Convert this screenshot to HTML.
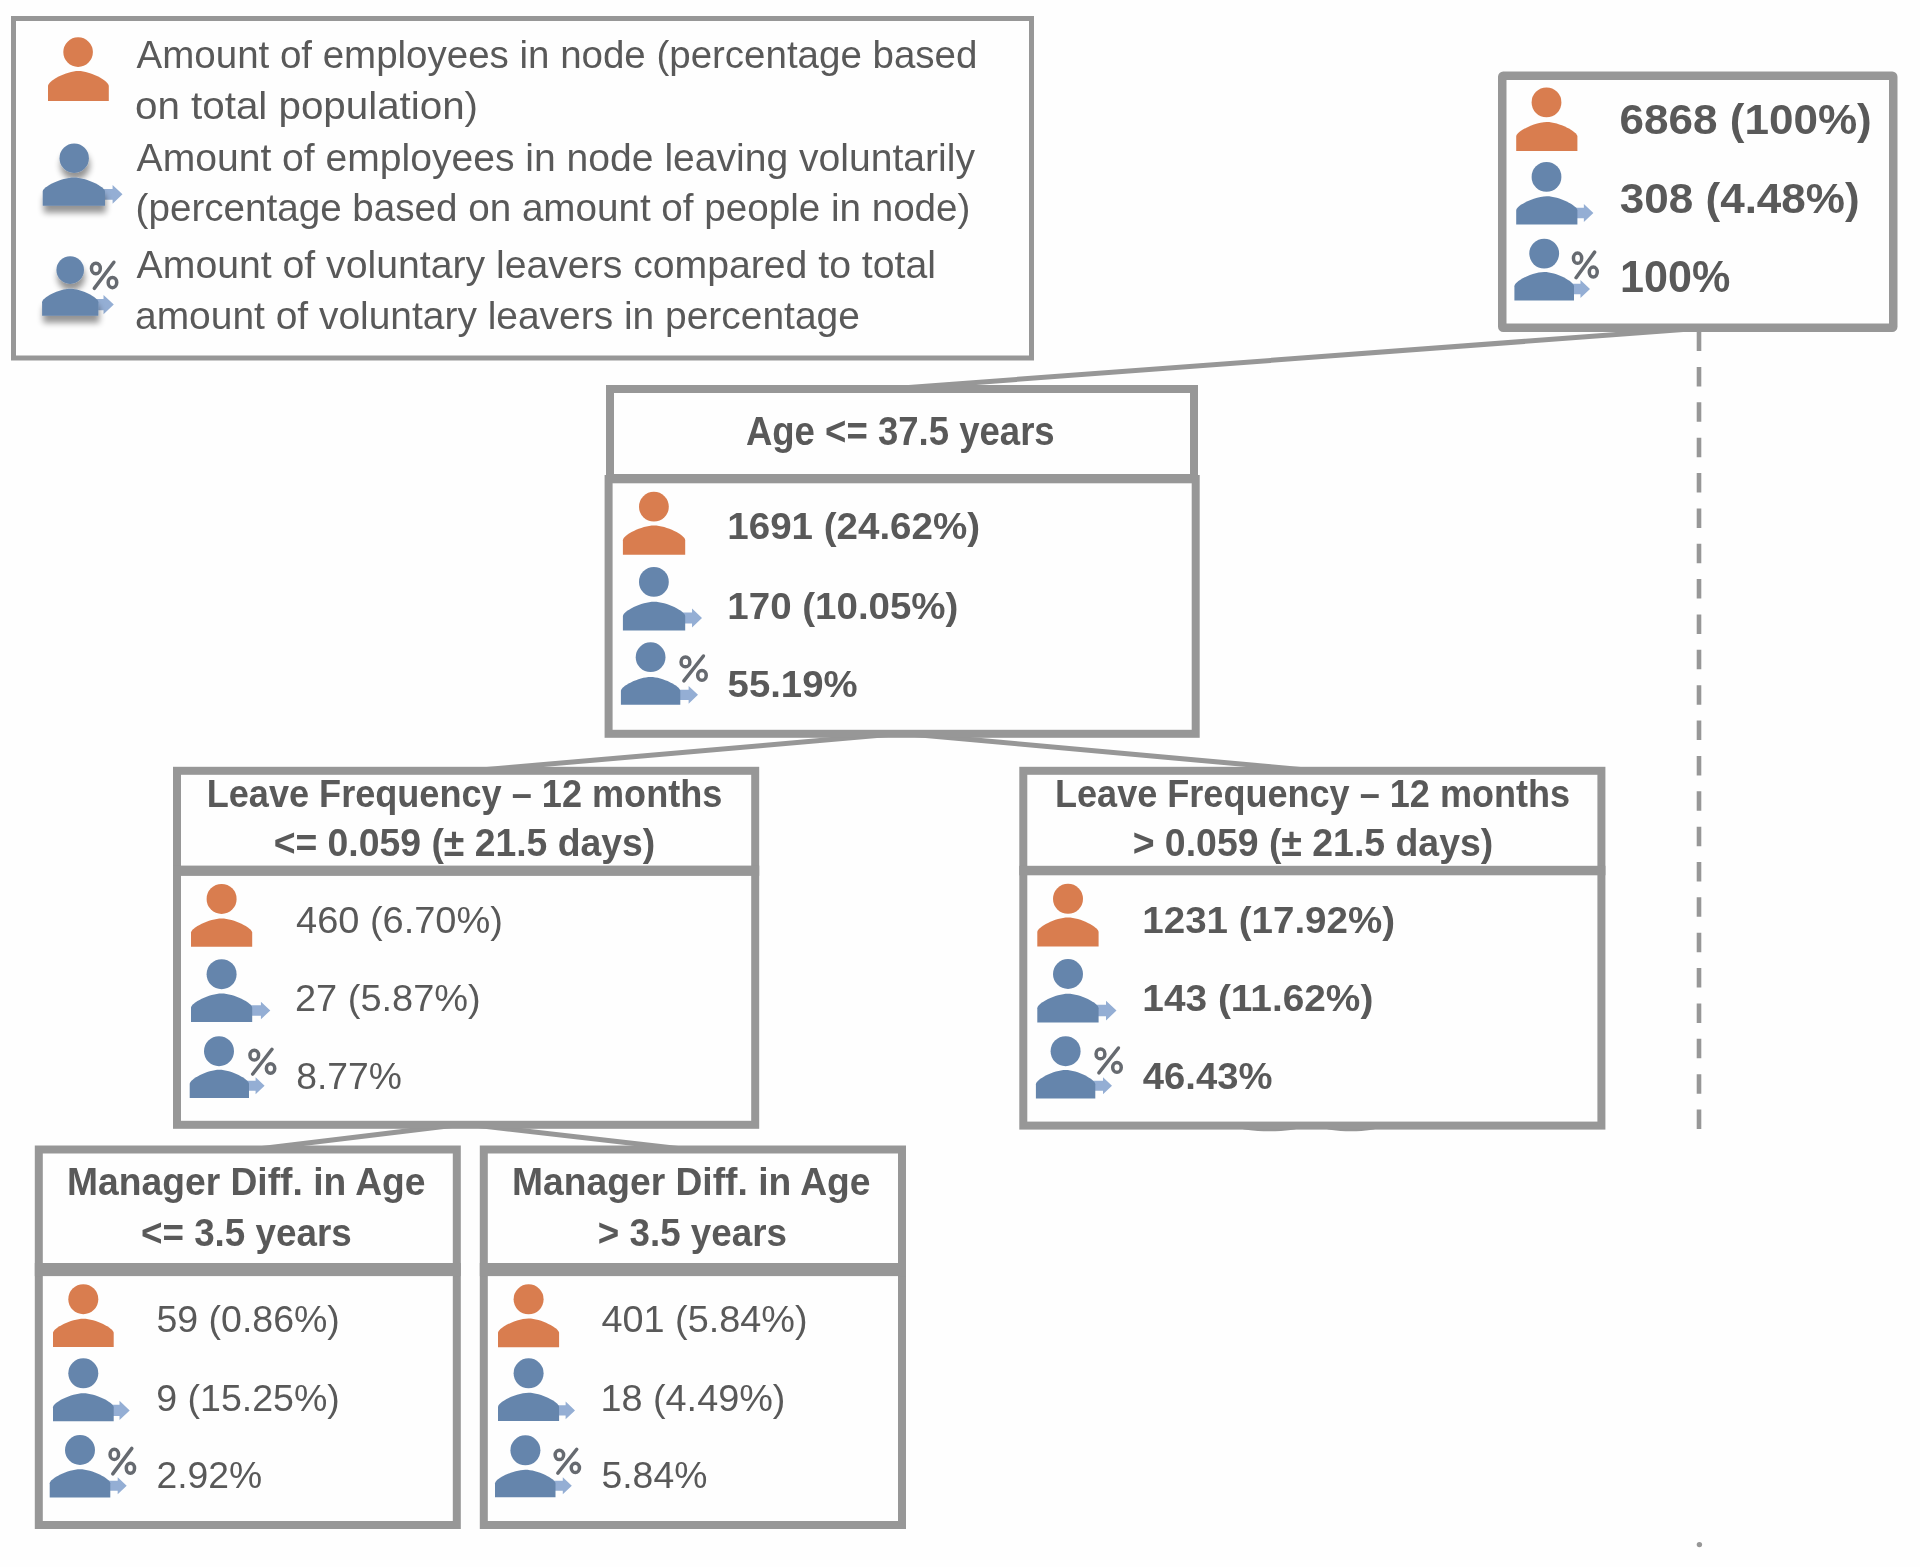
<!DOCTYPE html>
<html><head><meta charset="utf-8"><style>
html,body{margin:0;padding:0;background:#fff;width:1920px;height:1567px;overflow:hidden}
svg{display:block;filter:blur(0.6px)}
text{font-family:"Liberation Sans", sans-serif}
</style></head><body>
<svg width="1920" height="1567" viewBox="0 0 1920 1567">
<defs><filter id="ds" x="-30%" y="-30%" width="160%" height="180%"><feGaussianBlur in="SourceAlpha" stdDeviation="3.2"/><feOffset dx="1" dy="7"/><feComponentTransfer><feFuncA type="linear" slope="0.42"/></feComponentTransfer><feMerge><feMergeNode/><feMergeNode in="SourceGraphic"/></feMerge></filter></defs>
<rect width="1920" height="1567" fill="#fefefe"/>
<rect x="13.50" y="18.50" width="1018.00" height="339.50" fill="#fefefe" stroke="#979797" stroke-width="5" rx="0"/>
<text x="136.62" y="68.00" font-size="39.39" font-weight="normal" fill="#595959" textLength="840.76" lengthAdjust="spacingAndGlyphs">Amount of employees in node (percentage based</text>
<text x="135.01" y="118.50" font-size="39.39" font-weight="normal" fill="#595959" textLength="342.99" lengthAdjust="spacingAndGlyphs">on total population)</text>
<text x="136.62" y="170.50" font-size="39.39" font-weight="normal" fill="#595959" textLength="838.35" lengthAdjust="spacingAndGlyphs">Amount of employees in node leaving voluntarily</text>
<text x="135.61" y="221.00" font-size="39.39" font-weight="normal" fill="#595959" textLength="834.79" lengthAdjust="spacingAndGlyphs">(percentage based on amount of people in node)</text>
<text x="136.62" y="278.30" font-size="39.39" font-weight="normal" fill="#595959" textLength="799.30" lengthAdjust="spacingAndGlyphs">Amount of voluntary leavers compared to total</text>
<text x="135.05" y="329.00" font-size="39.39" font-weight="normal" fill="#595959" textLength="724.78" lengthAdjust="spacingAndGlyphs">amount of voluntary leavers in percentage</text>
<circle cx="78.10" cy="52.10" r="14.80" fill="#D97D4F"/>
<path d="M48.00,101.00 L48.00,86.00 C48.00,80.90 66.24,71.00 78.40,71.00 C90.56,71.00 108.80,80.90 108.80,86.00 L108.80,101.00 Z" fill="#D97D4F"/>
<path d="M101.00,188.88 L112.59,188.88 L112.59,184.95 L122.50,194.30 L112.59,203.65 L112.59,199.72 L101.00,199.72 Z" fill="#94AED4"/>
<g filter="url(#ds)">
<circle cx="74.20" cy="158.20" r="14.70" fill="#6585AC"/>
<path d="M42.70,205.70 L42.70,191.65 C42.70,186.87 61.39,177.60 73.85,177.60 C86.31,177.60 105.00,186.87 105.00,191.65 L105.00,205.70 Z" fill="#6585AC"/>
</g>
<path d="M94.40,298.97 L103.52,298.97 L103.52,294.90 L113.80,304.60 L103.52,314.30 L103.52,310.23 L94.40,310.23 Z" fill="#94AED4"/>
<g filter="url(#ds)">
<circle cx="70.20" cy="270.10" r="13.80" fill="#6585AC"/>
<path d="M42.10,315.70 L42.10,302.25 C42.10,297.68 58.99,288.80 70.25,288.80 C81.51,288.80 98.40,297.68 98.40,302.25 L98.40,315.70 Z" fill="#6585AC"/>
</g>
<ellipse cx="95.89" cy="268.42" rx="4.44" ry="5.28" fill="none" stroke="#666a70" stroke-width="3.5"/>
<ellipse cx="112.45" cy="282.62" rx="4.30" ry="5.13" fill="none" stroke="#666a70" stroke-width="3.5"/>
<line x1="94.31" y1="288.38" x2="113.89" y2="262.24" stroke="#666a70" stroke-width="3.5" stroke-linecap="round"/>
<line x1="1690" y1="329" x2="902" y2="388" stroke="#979797" stroke-width="5"/>
<line x1="894" y1="734" x2="481" y2="770" stroke="#979797" stroke-width="5"/>
<line x1="909" y1="734" x2="1306" y2="770" stroke="#979797" stroke-width="5"/>
<line x1="456" y1="1125" x2="262" y2="1148.5" stroke="#979797" stroke-width="5"/>
<line x1="474" y1="1125" x2="678" y2="1148.5" stroke="#979797" stroke-width="5"/>
<line x1="1699" y1="331.6" x2="1699" y2="1130" stroke="#979797" stroke-width="4.6" stroke-dasharray="19.5 15.86"/>
<circle cx="1699.4" cy="1544.6" r="2.7" fill="#979797"/>
<ellipse cx="1269.4" cy="1127" rx="30" ry="4.3" fill="#979797"/>
<ellipse cx="1351" cy="1127" rx="27" ry="4.3" fill="#979797"/>
<rect x="1502.25" y="75.75" width="391.00" height="252.00" fill="#fefefe" stroke="#979797" stroke-width="8.5" rx="1"/>
<circle cx="1546.50" cy="102.40" r="14.90" fill="#D97D4F"/>
<path d="M1516.20,151.00 L1516.20,136.45 C1516.20,131.50 1534.56,121.90 1546.80,121.90 C1559.04,121.90 1577.40,131.50 1577.40,136.45 L1577.40,151.00 Z" fill="#D97D4F"/>
<path d="M1573.40,207.78 L1583.86,207.78 L1583.86,204.00 L1593.40,213.00 L1583.86,222.00 L1583.86,218.22 L1573.40,218.22 Z" fill="#94AED4"/>
<circle cx="1546.50" cy="176.90" r="14.90" fill="#6585AC"/>
<path d="M1516.20,224.50 L1516.20,210.40 C1516.20,205.61 1534.56,196.30 1546.80,196.30 C1559.04,196.30 1577.40,205.61 1577.40,210.40 L1577.40,224.50 Z" fill="#6585AC"/>
<path d="M1570.00,283.78 L1580.46,283.78 L1580.46,280.00 L1590.00,289.00 L1580.46,298.00 L1580.46,294.22 L1570.00,294.22 Z" fill="#94AED4"/>
<circle cx="1544.20" cy="253.60" r="14.90" fill="#6585AC"/>
<path d="M1514.40,300.60 L1514.40,286.30 C1514.40,281.44 1532.28,272.00 1544.20,272.00 C1556.12,272.00 1574.00,281.44 1574.00,286.30 L1574.00,300.60 Z" fill="#6585AC"/>
<ellipse cx="1577.57" cy="258.18" rx="4.12" ry="5.12" fill="none" stroke="#666a70" stroke-width="3.5"/>
<ellipse cx="1593.27" cy="272.06" rx="3.98" ry="4.99" fill="none" stroke="#666a70" stroke-width="3.5"/>
<line x1="1576.07" y1="277.70" x2="1594.63" y2="252.12" stroke="#666a70" stroke-width="3.5" stroke-linecap="round"/>
<text x="1619.49" y="133.80" font-size="43.08" font-weight="bold" fill="#595959" textLength="252.31" lengthAdjust="spacingAndGlyphs">6868 (100%)</text>
<text x="1619.79" y="212.60" font-size="43.08" font-weight="bold" fill="#595959" textLength="239.90" lengthAdjust="spacingAndGlyphs">308 (4.48%)</text>
<text x="1619.98" y="291.60" font-size="43.64" font-weight="bold" fill="#595959" textLength="110.25" lengthAdjust="spacingAndGlyphs">100%</text>
<rect x="610.00" y="389.00" width="584.00" height="89.00" fill="#fefefe" stroke="#979797" stroke-width="8" rx="0"/>
<rect x="608.60" y="479.00" width="587.10" height="254.80" fill="#fefefe" stroke="#979797" stroke-width="8" rx="0"/>
<rect x="606.00" y="474.00" width="592.00" height="9.30" fill="#979797"/>
<text x="745.89" y="445.20" font-size="39.97" font-weight="bold" fill="#595959" textLength="308.81" lengthAdjust="spacingAndGlyphs">Age &lt;= 37.5 years</text>
<circle cx="653.90" cy="506.70" r="14.90" fill="#D97D4F"/>
<path d="M622.90,554.80 L622.90,540.15 C622.90,535.17 641.59,525.50 654.05,525.50 C666.51,525.50 685.20,535.17 685.20,540.15 L685.20,554.80 Z" fill="#D97D4F"/>
<path d="M681.20,612.55 L692.04,612.55 L692.04,608.60 L702.00,618.00 L692.04,627.40 L692.04,623.45 L681.20,623.45 Z" fill="#94AED4"/>
<circle cx="653.90" cy="581.90" r="14.90" fill="#6585AC"/>
<path d="M622.90,630.40 L622.90,616.05 C622.90,611.17 641.59,601.70 654.05,601.70 C666.51,601.70 685.20,611.17 685.20,616.05 L685.20,630.40 Z" fill="#6585AC"/>
<path d="M676.30,689.67 L688.62,689.67 L688.62,685.95 L698.00,694.80 L688.62,703.65 L688.62,699.93 L676.30,699.93 Z" fill="#94AED4"/>
<circle cx="650.60" cy="657.20" r="14.90" fill="#6585AC"/>
<path d="M620.90,704.70 L620.90,690.85 C620.90,686.14 638.72,677.00 650.60,677.00 C662.48,677.00 680.30,686.14 680.30,690.85 L680.30,704.70 Z" fill="#6585AC"/>
<ellipse cx="685.47" cy="661.90" rx="4.42" ry="4.95" fill="none" stroke="#666a70" stroke-width="3.5"/>
<ellipse cx="701.97" cy="675.43" rx="4.28" ry="4.82" fill="none" stroke="#666a70" stroke-width="3.5"/>
<line x1="683.89" y1="680.93" x2="703.41" y2="656.00" stroke="#666a70" stroke-width="3.5" stroke-linecap="round"/>
<text x="727.37" y="539.00" font-size="37.15" font-weight="bold" fill="#595959" textLength="252.64" lengthAdjust="spacingAndGlyphs">1691 (24.62%)</text>
<text x="727.38" y="618.60" font-size="37.15" font-weight="bold" fill="#595959" textLength="231.04" lengthAdjust="spacingAndGlyphs">170 (10.05%)</text>
<text x="727.62" y="696.80" font-size="37.15" font-weight="bold" fill="#595959" textLength="129.89" lengthAdjust="spacingAndGlyphs">55.19%</text>
<rect x="177.00" y="770.80" width="578.20" height="354.00" fill="#fefefe" stroke="#979797" stroke-width="8" rx="0"/>
<rect x="173.00" y="865.60" width="586.20" height="10.30" fill="#979797"/>
<text x="206.68" y="806.80" font-size="38.52" font-weight="bold" fill="#595959" textLength="515.70" lengthAdjust="spacingAndGlyphs">Leave Frequency – 12 months</text>
<text x="273.63" y="855.80" font-size="38.52" font-weight="bold" fill="#595959" textLength="381.63" lengthAdjust="spacingAndGlyphs">&lt;= 0.059 (± 21.5 days)</text>
<circle cx="221.60" cy="898.90" r="15.00" fill="#D97D4F"/>
<path d="M191.00,946.70 L191.00,932.55 C191.00,927.74 209.36,918.40 221.60,918.40 C233.84,918.40 252.20,927.74 252.20,932.55 L252.20,946.70 Z" fill="#D97D4F"/>
<path d="M248.20,1005.37 L260.92,1005.37 L260.92,1001.65 L270.30,1010.50 L260.92,1019.35 L260.92,1015.63 L248.20,1015.63 Z" fill="#94AED4"/>
<circle cx="221.60" cy="974.20" r="15.00" fill="#6585AC"/>
<path d="M191.00,1022.00 L191.00,1007.80 C191.00,1002.97 209.36,993.60 221.60,993.60 C233.84,993.60 252.20,1002.97 252.20,1007.80 L252.20,1022.00 Z" fill="#6585AC"/>
<path d="M245.00,1080.77 L255.59,1080.77 L255.59,1077.20 L264.60,1085.70 L255.59,1094.20 L255.59,1090.63 L245.00,1090.63 Z" fill="#94AED4"/>
<circle cx="219.00" cy="1051.20" r="15.00" fill="#6585AC"/>
<path d="M189.70,1098.10 L189.70,1083.95 C189.70,1079.14 207.49,1069.80 219.35,1069.80 C231.21,1069.80 249.00,1079.14 249.00,1083.95 L249.00,1098.10 Z" fill="#6585AC"/>
<ellipse cx="254.28" cy="1055.15" rx="4.33" ry="4.90" fill="none" stroke="#666a70" stroke-width="3.5"/>
<ellipse cx="270.56" cy="1068.58" rx="4.19" ry="4.77" fill="none" stroke="#666a70" stroke-width="3.5"/>
<line x1="252.73" y1="1074.04" x2="271.97" y2="1049.30" stroke="#666a70" stroke-width="3.5" stroke-linecap="round"/>
<text x="296.03" y="932.60" font-size="36.72" font-weight="normal" fill="#595959" textLength="206.83" lengthAdjust="spacingAndGlyphs">460 (6.70%)</text>
<text x="294.99" y="1010.50" font-size="36.72" font-weight="normal" fill="#595959" textLength="185.76" lengthAdjust="spacingAndGlyphs">27 (5.87%)</text>
<text x="296.18" y="1089.30" font-size="36.72" font-weight="normal" fill="#595959" textLength="105.65" lengthAdjust="spacingAndGlyphs">8.77%</text>
<rect x="1023.30" y="770.80" width="578.10" height="354.80" fill="#fefefe" stroke="#979797" stroke-width="8" rx="0"/>
<rect x="1019.30" y="865.80" width="586.10" height="9.50" fill="#979797"/>
<text x="1054.99" y="806.80" font-size="38.52" font-weight="bold" fill="#595959" textLength="515.19" lengthAdjust="spacingAndGlyphs">Leave Frequency – 12 months</text>
<text x="1132.63" y="855.80" font-size="38.52" font-weight="bold" fill="#595959" textLength="360.63" lengthAdjust="spacingAndGlyphs">&gt; 0.059 (± 21.5 days)</text>
<circle cx="1068.00" cy="898.80" r="15.00" fill="#D97D4F"/>
<path d="M1037.30,946.60 L1037.30,932.10 C1037.30,927.17 1055.69,917.60 1067.95,917.60 C1080.21,917.60 1098.60,927.17 1098.60,932.10 L1098.60,946.60 Z" fill="#D97D4F"/>
<path d="M1094.60,1004.86 L1106.01,1004.86 L1106.01,1000.70 L1116.50,1010.60 L1106.01,1020.50 L1106.01,1016.34 L1094.60,1016.34 Z" fill="#94AED4"/>
<circle cx="1068.00" cy="974.00" r="15.00" fill="#6585AC"/>
<path d="M1037.30,1022.50 L1037.30,1008.15 C1037.30,1003.27 1055.69,993.80 1067.95,993.80 C1080.21,993.80 1098.60,1003.27 1098.60,1008.15 L1098.60,1022.50 Z" fill="#6585AC"/>
<path d="M1091.30,1080.87 L1102.99,1080.87 L1102.99,1077.30 L1112.00,1085.80 L1102.99,1094.30 L1102.99,1090.73 L1091.30,1090.73 Z" fill="#94AED4"/>
<circle cx="1065.60" cy="1051.20" r="15.00" fill="#6585AC"/>
<path d="M1035.90,1098.60 L1035.90,1084.30 C1035.90,1079.44 1053.72,1070.00 1065.60,1070.00 C1077.48,1070.00 1095.30,1079.44 1095.30,1084.30 L1095.30,1098.60 Z" fill="#6585AC"/>
<ellipse cx="1100.47" cy="1053.90" rx="4.42" ry="4.95" fill="none" stroke="#666a70" stroke-width="3.5"/>
<ellipse cx="1116.97" cy="1067.43" rx="4.28" ry="4.82" fill="none" stroke="#666a70" stroke-width="3.5"/>
<line x1="1098.89" y1="1072.93" x2="1118.41" y2="1048.00" stroke="#666a70" stroke-width="3.5" stroke-linecap="round"/>
<text x="1142.37" y="933.40" font-size="37.71" font-weight="bold" fill="#595959" textLength="252.64" lengthAdjust="spacingAndGlyphs">1231 (17.92%)</text>
<text x="1142.38" y="1010.60" font-size="37.71" font-weight="bold" fill="#595959" textLength="230.94" lengthAdjust="spacingAndGlyphs">143 (11.62%)</text>
<text x="1142.82" y="1088.80" font-size="37.71" font-weight="bold" fill="#595959" textLength="129.59" lengthAdjust="spacingAndGlyphs">46.43%</text>
<rect x="38.80" y="1149.50" width="418.00" height="375.50" fill="#fefefe" stroke="#979797" stroke-width="8" rx="0"/>
<rect x="34.80" y="1263.00" width="426.00" height="13.10" fill="#979797"/>
<text x="67.12" y="1195.20" font-size="38.52" font-weight="bold" fill="#595959" textLength="358.35" lengthAdjust="spacingAndGlyphs">Manager Diff. in Age</text>
<text x="140.95" y="1245.60" font-size="38.52" font-weight="bold" fill="#595959" textLength="210.75" lengthAdjust="spacingAndGlyphs">&lt;= 3.5 years</text>
<circle cx="83.30" cy="1299.20" r="15.00" fill="#D97D4F"/>
<path d="M53.00,1347.00 L53.00,1332.85 C53.00,1328.04 71.21,1318.70 83.35,1318.70 C95.49,1318.70 113.70,1328.04 113.70,1332.85 L113.70,1347.00 Z" fill="#D97D4F"/>
<path d="M109.70,1404.83 L119.52,1404.83 L119.52,1400.80 L129.70,1410.40 L119.52,1420.00 L119.52,1415.97 L109.70,1415.97 Z" fill="#94AED4"/>
<circle cx="83.30" cy="1373.30" r="15.00" fill="#6585AC"/>
<path d="M53.00,1421.30 L53.00,1407.30 C53.00,1402.54 71.21,1393.30 83.35,1393.30 C95.49,1393.30 113.70,1402.54 113.70,1407.30 L113.70,1421.30 Z" fill="#6585AC"/>
<path d="M106.30,1480.87 L117.69,1480.87 L117.69,1477.30 L126.70,1485.80 L117.69,1494.30 L117.69,1490.73 L106.30,1490.73 Z" fill="#94AED4"/>
<circle cx="80.00" cy="1450.00" r="15.00" fill="#6585AC"/>
<path d="M49.70,1497.50 L49.70,1483.35 C49.70,1478.54 67.88,1469.20 80.00,1469.20 C92.12,1469.20 110.30,1478.54 110.30,1483.35 L110.30,1497.50 Z" fill="#6585AC"/>
<ellipse cx="114.32" cy="1454.38" rx="4.27" ry="5.12" fill="none" stroke="#666a70" stroke-width="3.5"/>
<ellipse cx="130.42" cy="1468.26" rx="4.13" ry="4.99" fill="none" stroke="#666a70" stroke-width="3.5"/>
<line x1="112.78" y1="1473.90" x2="131.82" y2="1448.33" stroke="#666a70" stroke-width="3.5" stroke-linecap="round"/>
<text x="156.50" y="1331.70" font-size="37.57" font-weight="normal" fill="#595959" textLength="183.32" lengthAdjust="spacingAndGlyphs">59 (0.86%)</text>
<text x="156.24" y="1410.80" font-size="37.57" font-weight="normal" fill="#595959" textLength="183.59" lengthAdjust="spacingAndGlyphs">9 (15.25%)</text>
<text x="156.43" y="1488.30" font-size="37.57" font-weight="normal" fill="#595959" textLength="105.70" lengthAdjust="spacingAndGlyphs">2.92%</text>
<rect x="483.80" y="1149.50" width="418.20" height="375.50" fill="#fefefe" stroke="#979797" stroke-width="8" rx="0"/>
<rect x="479.80" y="1263.00" width="426.20" height="13.10" fill="#979797"/>
<text x="512.12" y="1195.20" font-size="38.52" font-weight="bold" fill="#595959" textLength="358.35" lengthAdjust="spacingAndGlyphs">Manager Diff. in Age</text>
<text x="597.86" y="1245.60" font-size="38.52" font-weight="bold" fill="#595959" textLength="189.05" lengthAdjust="spacingAndGlyphs">&gt; 3.5 years</text>
<circle cx="528.60" cy="1299.30" r="15.00" fill="#D97D4F"/>
<path d="M498.00,1347.30 L498.00,1332.85 C498.00,1327.94 516.33,1318.40 528.55,1318.40 C540.77,1318.40 559.10,1327.94 559.10,1332.85 L559.10,1347.30 Z" fill="#D97D4F"/>
<path d="M555.10,1405.27 L565.62,1405.27 L565.62,1401.55 L575.00,1410.40 L565.62,1419.25 L565.62,1415.53 L555.10,1415.53 Z" fill="#94AED4"/>
<circle cx="528.60" cy="1373.30" r="15.00" fill="#6585AC"/>
<path d="M498.00,1421.10 L498.00,1406.95 C498.00,1402.14 516.33,1392.80 528.55,1392.80 C540.77,1392.80 559.10,1402.14 559.10,1406.95 L559.10,1421.10 Z" fill="#6585AC"/>
<path d="M551.50,1480.77 L562.79,1480.77 L562.79,1477.20 L571.80,1485.70 L562.79,1494.20 L562.79,1490.63 L551.50,1490.63 Z" fill="#94AED4"/>
<circle cx="525.40" cy="1450.30" r="15.00" fill="#6585AC"/>
<path d="M495.00,1497.20 L495.00,1483.50 C495.00,1478.84 513.15,1469.80 525.25,1469.80 C537.35,1469.80 555.50,1478.84 555.50,1483.50 L555.50,1497.20 Z" fill="#6585AC"/>
<ellipse cx="559.38" cy="1454.92" rx="4.23" ry="4.68" fill="none" stroke="#666a70" stroke-width="3.5"/>
<ellipse cx="575.36" cy="1467.90" rx="4.09" ry="4.55" fill="none" stroke="#666a70" stroke-width="3.5"/>
<line x1="557.85" y1="1473.17" x2="576.75" y2="1449.27" stroke="#666a70" stroke-width="3.5" stroke-linecap="round"/>
<text x="601.53" y="1331.70" font-size="37.57" font-weight="normal" fill="#595959" textLength="206.01" lengthAdjust="spacingAndGlyphs">401 (5.84%)</text>
<text x="600.42" y="1410.50" font-size="37.57" font-weight="normal" fill="#595959" textLength="185.03" lengthAdjust="spacingAndGlyphs">18 (4.49%)</text>
<text x="601.51" y="1488.40" font-size="37.57" font-weight="normal" fill="#595959" textLength="105.82" lengthAdjust="spacingAndGlyphs">5.84%</text>
</svg>
</body></html>
